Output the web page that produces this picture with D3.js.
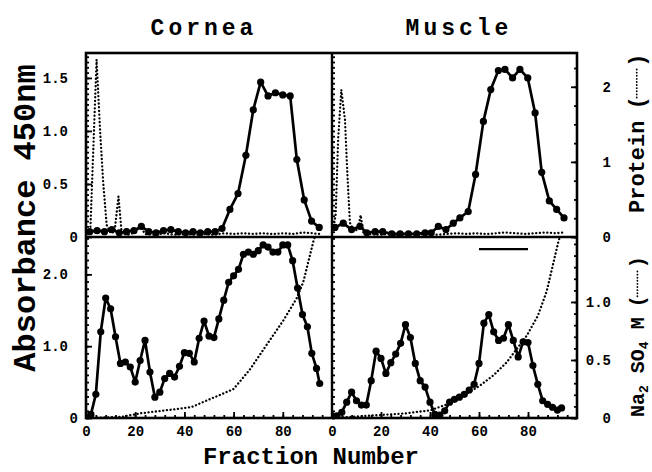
<!DOCTYPE html>
<html>
<head>
<meta charset="utf-8">
<script src="https://cdn.jsdelivr.net/npm/d3@7"></script>
<style>
  body { margin: 0; background: #fff; }
  text { font-family: "Liberation Mono", "DejaVu Sans Mono", monospace; font-weight: bold; fill: #000; }
</style>
</head>
<body>
<svg id="chart" width="652" height="472"></svg>
<script>
// ---- data ----
// Cornea, upper panel: enzyme (A450) and protein
const corneaUpperFrac = [1.5, 4.5, 7.5, 10.5, 13.5, 16.5, 19.5, 22.5, 25.5, 28.5, 31.5, 34.5, 37.5, 40.5, 43.5, 46.5, 49.5, 52.5, 55.3, 58.5, 61.8, 65, 68, 71, 74, 77, 80, 83, 85.7, 88.7, 91.7, 94.8];
const corneaUpperAbs = [0.05, 0.06, 0.05, 0.07, 0.04, 0.05, 0.06, 0.1, 0.05, 0.04, 0.06, 0.07, 0.05, 0.04, 0.05, 0.04, 0.05, 0.05, 0.08, 0.26, 0.41, 0.77, 1.2, 1.46, 1.33, 1.36, 1.34, 1.33, 0.73, 0.35, 0.15, 0.09];
const corneaProteinFrac = [0.5, 1.8, 4.3, 5.7, 7, 8.4, 10, 11.6, 13.2, 14.5, 17, 20, 22, 24, 28, 32, 36, 40, 44, 48, 52, 56, 60, 64, 68, 72, 76, 80, 84, 88, 92, 95];
const corneaProtein = [0.05, 0.12, 2.36, 1.43, 0.72, 0.16, 0.05, 0.07, 0.54, 0.05, 0.03, 0.06, 0.15, 0.04, 0.03, 0.05, 0.03, 0.04, 0.03, 0.04, 0.03, 0.05, 0.04, 0.05, 0.04, 0.05, 0.04, 0.05, 0.04, 0.06, 0.05, 0.04];

// Muscle, upper panel
const muscleUpperFrac = [1.2, 4.6, 8, 11.4, 14.2, 17.6, 20.7, 24.4, 27.8, 31.2, 34.6, 38, 40.5, 43.4, 46.5, 49.5, 52.2, 55.6, 58.6, 61.8, 64.8, 67.9, 70.6, 73.7, 76.7, 79.9, 82.9, 85.6, 88.7, 91.7, 94.7];
const muscleUpperAbs = [0.09, 0.13, 0.07, 0.1, 0.04, 0.05, 0.05, 0.03, 0.03, 0.03, 0.03, 0.04, 0.04, 0.10, 0.07, 0.13, 0.18, 0.24, 0.59, 1.09, 1.39, 1.57, 1.58, 1.50, 1.58, 1.50, 1.17, 0.61, 0.34, 0.26, 0.18];
const muscleProteinFrac = [0.5, 1.5, 2.5, 3.8, 5.3, 6.2, 7.3, 9, 10.5, 11.7, 12.8, 15, 19, 23, 27, 31, 35, 39, 43, 47, 51, 55, 59, 63, 67, 71, 75, 79, 83, 87, 91, 95];
const muscleProtein = [0.1, 0.3, 1.3, 1.96, 1.56, 0.89, 0.19, 0.08, 0.1, 0.29, 0.06, 0.04, 0.03, 0.04, 0.03, 0.04, 0.03, 0.04, 0.03, 0.04, 0.05, 0.04, 0.05, 0.04, 0.05, 0.06, 0.05, 0.04, 0.05, 0.06, 0.05, 0.06];

// Cornea, lower panel: enzyme (A450) and Na2SO4 gradient
const corneaLowerFrac = [0, 2, 4, 6, 8, 10, 12, 14, 16, 18, 20, 22, 24, 26, 28, 30, 32, 34, 36, 38, 40, 42, 44, 46, 48, 50, 52, 54, 56, 58, 60, 62, 64, 66, 68, 70, 72, 74, 76, 78, 80, 82, 84, 86, 88, 90, 91.8, 93.7, 95];
const corneaLowerAbs = [0, 0.05, 0.33, 1.2, 1.67, 1.52, 1.13, 0.76, 0.78, 0.71, 0.5, 0.8, 1.08, 0.64, 0.29, 0.36, 0.55, 0.62, 0.57, 0.72, 0.91, 0.9, 0.78, 1.11, 1.35, 1.14, 1.12, 1.38, 1.64, 1.89, 1.98, 2.07, 2.28, 2.31, 2.28, 2.33, 2.41, 2.38, 2.31, 2.31, 2.41, 2.41, 2.19, 1.81, 1.44, 1.27, 0.9, 0.69, 0.48];
const corneaSaltFrac = [0, 8, 14.5, 22, 30, 38, 43, 49, 54.6, 60, 66.7, 73.4, 80.2, 85.6, 88.3, 92.4, 93];
const corneaSalt = [0, 0.005, 0.01, 0.04, 0.06, 0.08, 0.095, 0.15, 0.2, 0.25, 0.42, 0.63, 0.84, 1.03, 1.17, 1.52, 1.56];

// Muscle, lower panel
const muscleLowerFrac = [0, 2, 4, 6, 8, 10, 12, 14, 16, 18, 20, 22, 24, 26, 28, 30, 32, 34, 36, 38, 40, 42, 44, 46, 48, 50, 52, 54, 56, 58, 60, 62, 64, 66, 68, 70, 72, 74, 76, 78, 80, 82, 84, 86, 88, 90, 92, 93.7];
const muscleLowerAbs = [0.03, 0.03, 0.08, 0.22, 0.36, 0.24, 0.18, 0.18, 0.52, 0.93, 0.83, 0.62, 0.77, 0.89, 1.04, 1.30, 1.12, 0.76, 0.52, 0.43, 0.22, 0.05, 0.04, 0.1, 0.22, 0.26, 0.29, 0.33, 0.39, 0.47, 0.76, 1.32, 1.44, 1.2, 1.08, 1.11, 1.3, 1.08, 0.85, 1.06, 1.05, 0.73, 0.47, 0.24, 0.19, 0.15, 0.11, 0.14];
const muscleSaltFrac = [0, 15.5, 30, 40, 46, 52, 60.4, 66, 71.3, 79.5, 84, 87.6, 92.4, 93];
const muscleSalt = [0, 0.02, 0.04, 0.066, 0.11, 0.17, 0.28, 0.37, 0.48, 0.71, 0.88, 1.09, 1.52, 1.56];

// pooled fractions bar (muscle, lower)
const poolFrac = [60, 80];
const poolLevel = 2.35;

// tick values
const xTicks = [0, 20, 40, 60, 80];
const upperAbsTicks = [0, 0.5, 1.0, 1.5];
const lowerAbsTicks = [0, 1.0, 2.0];
const proteinTicks = [0, 1, 2];
const saltTicks = [0, 0.5, 1.0];

// ---- layout ----
const svg = d3.select("#chart");
const pLeft = 86, pMid = 332, pRight = 577, pTop = 53, pMidY = 237, pBottom = 418;

const xL = d3.scaleLinear().domain([0, 100]).range([pLeft, pMid]);
const xR = d3.scaleLinear().domain([0, 100]).range([pMid, pRight]);
const yUp = d3.scaleLinear().domain([0, 1.735]).range([pMidY, pTop]);
const yProt = d3.scaleLinear().domain([0, 2.45]).range([pMidY, pTop]);
const yLow = d3.scaleLinear().domain([0, 2.52]).range([pBottom, pMidY]);
const ySalt = d3.scaleLinear().domain([0, 1.56]).range([pBottom, pMidY]);

const panels = [
  { id: "ul", x: xL, y0: pTop, y1: pMidY, enzFrac: corneaUpperFrac, enz: corneaUpperAbs, yE: yUp, dotFrac: corneaProteinFrac, dot: corneaProtein, yD: yProt },
  { id: "ur", x: xR, y0: pTop, y1: pMidY, enzFrac: muscleUpperFrac, enz: muscleUpperAbs, yE: yUp, dotFrac: muscleProteinFrac, dot: muscleProtein, yD: yProt },
  { id: "ll", x: xL, y0: pMidY, y1: pBottom, enzFrac: corneaLowerFrac, enz: corneaLowerAbs, yE: yLow, dotFrac: corneaSaltFrac, dot: corneaSalt, yD: ySalt },
  { id: "lr", x: xR, y0: pMidY, y1: pBottom, enzFrac: muscleLowerFrac, enz: muscleLowerAbs, yE: yLow, dotFrac: muscleSaltFrac, dot: muscleSalt, yD: ySalt }
];

const defs = svg.append("defs");

panels.forEach(p => {
  const [xa, xb] = p.x.range();
  defs.append("clipPath").attr("id", "clip-" + p.id)
    .append("rect")
    .attr("x", xa).attr("y", p.y0 - 4)
    .attr("width", xb - xa).attr("height", p.y1 - p.y0 + 4);

  const g = svg.append("g").attr("clip-path", `url(#clip-${p.id})`);

  // dotted series (protein or Na2SO4 gradient)
  const dotLine = d3.line()
    .x((d, i) => p.x(p.dotFrac[i]))
    .y(d => p.yD(d));
  g.append("path")
    .datum(p.dot)
    .attr("d", dotLine)
    .attr("fill", "none")
    .attr("stroke", "#000")
    .attr("stroke-width", 2.3)
    .attr("stroke-linecap", "round")
    .attr("stroke-dasharray", "0.1 3.6");

  // enzyme series: solid line with filled circles
  const enzLine = d3.line()
    .x((d, i) => p.x(p.enzFrac[i]))
    .y(d => p.yE(d));
  g.append("path")
    .datum(p.enz)
    .attr("d", enzLine)
    .attr("fill", "none")
    .attr("stroke", "#000")
    .attr("stroke-width", 2.7)
    .attr("stroke-linejoin", "round");
  g.selectAll("circle.pt")
    .data(p.enz)
    .enter()
    .append("circle")
    .attr("class", "pt")
    .attr("cx", (d, i) => p.x(p.enzFrac[i]))
    .attr("cy", d => p.yE(d))
    .attr("r", 3.6)
    .attr("fill", "#000");
});

// pooled bar
svg.append("line")
  .attr("x1", xR(poolFrac[0])).attr("x2", xR(poolFrac[1]))
  .attr("y1", yLow(poolLevel)).attr("y2", yLow(poolLevel))
  .attr("stroke", "#000").attr("stroke-width", 2.2);

// ---- axes (inward ticks) ----
function styleAxis(g) {
  g.select(".domain").remove();
  g.selectAll(".tick line").attr("stroke", "#000").attr("stroke-width", 1.8);
  g.selectAll(".tick text").style("font-size", "14px").attr("fill", "#000");
}

function minorAxis(axisFn, scale, values, len, transform) {
  svg.append("g")
    .attr("transform", transform)
    .call(axisFn(scale).tickValues(values).tickSize(-len).tickFormat(""))
    .call(styleAxis);
}

// left axis labels (left panels), plain ticks on right panels' left edge
const fmtAbs = d => d === 0 ? "0" : d3.format(".1f")(d);
[[yUp, upperAbsTicks, d3.range(0, 1.74, 0.05)], [yLow, lowerAbsTicks, d3.range(0, 2.52, 0.1)]].forEach(([sc, majors, minors]) => {
  const g = svg.append("g")
    .attr("transform", `translate(${pLeft},0)`)
    .call(d3.axisLeft(sc).tickValues(majors).tickSize(-6).tickPadding(18).tickFormat(fmtAbs))
    .call(styleAxis);
  g.selectAll(".tick text").filter(d => d === 0).attr("x", -8);
  minorAxis(d3.axisLeft, sc, minors, 3, `translate(${pLeft},0)`);
  minorAxis(d3.axisLeft, sc, minors, 3, `translate(${pMid},0)`);
});

// right axes
const protG = svg.append("g")
  .attr("transform", `translate(${pRight},0)`)
  .call(d3.axisRight(yProt).tickValues(proteinTicks).tickSize(-6).tickFormat(d3.format("d")))
  .call(styleAxis);
protG.selectAll(".tick text").attr("text-anchor", "end").attr("x", 34);
minorAxis(d3.axisRight, yProt, d3.range(0, 2.45, 0.25), 3, `translate(${pRight},0)`);

const saltG = svg.append("g")
  .attr("transform", `translate(${pRight},0)`)
  .call(d3.axisRight(ySalt).tickValues(saltTicks).tickSize(-6).tickFormat(fmtAbs))
  .call(styleAxis);
saltG.selectAll(".tick text").attr("text-anchor", "end").attr("x", 34);
minorAxis(d3.axisRight, ySalt, d3.range(0, 1.56, 0.1), 3, `translate(${pRight},0)`);

// bottom axes
[xL, xR].forEach(sc => {
  svg.append("g")
    .attr("transform", `translate(0,${pBottom})`)
    .call(d3.axisBottom(sc).tickValues(xTicks).tickSize(-6).tickPadding(8).tickFormat(d3.format("d")))
    .call(styleAxis);
  minorAxis(d3.axisBottom, sc, d3.range(0, 100, 4), 3, `translate(0,${pBottom})`);
});

// frames
svg.append("rect")
  .attr("x", pLeft).attr("y", pTop)
  .attr("width", pRight - pLeft).attr("height", pBottom - pTop)
  .attr("fill", "none").attr("stroke", "#000").attr("stroke-width", 2.6);
svg.append("line")
  .attr("x1", pMid).attr("x2", pMid).attr("y1", pTop).attr("y2", pBottom)
  .attr("stroke", "#000").attr("stroke-width", 2.4);
svg.append("line")
  .attr("x1", pLeft).attr("x2", pRight).attr("y1", pMidY).attr("y2", pMidY)
  .attr("stroke", "#000").attr("stroke-width", 2.4);

// ---- titles and axis labels ----
svg.append("text").attr("x", 204).attr("y", 35).attr("text-anchor", "middle")
  .style("font-size", "23px").style("letter-spacing", "4px").text("Cornea");
svg.append("text").attr("x", 459).attr("y", 35).attr("text-anchor", "middle")
  .style("font-size", "23px").style("letter-spacing", "4px").text("Muscle");

svg.append("text").attr("transform", "translate(35,218) rotate(-90)")
  .attr("text-anchor", "middle").style("font-size", "32px").text("Absorbance 450nm");

svg.append("text").attr("x", 311).attr("y", 464).attr("text-anchor", "middle")
  .style("font-size", "24px").text("Fraction Number");

// rotated right-hand label with a dotted-line key in parentheses
function keyLabel(x, y, size, build) {
  const g = svg.append("g").attr("transform", `translate(${x},${y}) rotate(-90)`);
  const t = g.append("text").attr("x", 0).attr("y", 0).style("font-size", size + "px");
  build(t);
  const len = t.node().getComputedTextLength();
  const p0 = len + size * 0.5;
  g.append("text").attr("x", p0).attr("y", 0).style("font-size", size + "px").text("(");
  const lx0 = p0 + size * 0.55, lx1 = lx0 + size * 1.35;
  g.append("line")
    .attr("x1", lx0).attr("x2", lx1)
    .attr("y1", -size * 0.33).attr("y2", -size * 0.33)
    .attr("stroke", "#000").attr("stroke-width", 1.8)
    .attr("stroke-linecap", "round").attr("stroke-dasharray", "0.1 3");
  g.append("text").attr("x", lx1 + size * 0.05).attr("y", 0).style("font-size", size + "px").text(")");
}

keyLabel(644, 213, 22, t => t.text("Protein"));
keyLabel(644, 417, 20, t => {
  t.append("tspan").text("Na");
  t.append("tspan").attr("dy", 4).style("font-size", "13px").text("2");
  t.append("tspan").attr("dy", -4).text(" SO");
  t.append("tspan").attr("dy", 4).style("font-size", "13px").text("4");
  t.append("tspan").attr("dy", -4).text(" M");
});
</script>
</body>
</html>
